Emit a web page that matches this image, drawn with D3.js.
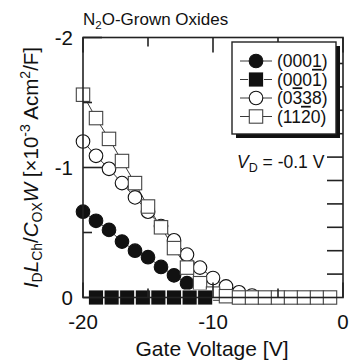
<!DOCTYPE html>
<html>
<head>
<meta charset="utf-8">
<style>
  body { margin: 0; background: #fff; }
  svg { font-family: "Liberation Sans", Arial, sans-serif; }
</style>
</head>
<body>
<svg width="357" height="360"></svg>
<script src="https://cdn.jsdelivr.net/npm/d3@7"></script>
<script>

// data (x: gate voltage [V], y: normalised drain current)
var circFilledV = [-20, -19, -18, -17, -16, -15, -14, -13, -12];
var circFilledI = [-0.66, -0.59, -0.52, -0.43, -0.36, -0.31, -0.235, -0.17, -0.11];

var sqFilledV = [-19, -17.8, -16.6, -15.4, -14.2, -13, -11.8, -10.6];
var sqFilledI = [0, 0, 0, 0, 0, 0, 0, 0];

var circOpenV = [-20, -19, -18, -17, -16, -15, -14, -13, -12, -11, -10, -9, -8, -7];
var circOpenI = [-1.20, -1.09, -0.99, -0.88, -0.77, -0.66, -0.55, -0.44, -0.33, -0.23, -0.15, -0.085, -0.04, -0.015];

var sqOpenV = [-20, -19, -18, -17, -16, -15, -14, -13, -12, -11, -10, -9, -8, -7, -6, -5, -4, -3, -2, -1];
var sqOpenI = [-1.56, -1.38, -1.22, -1.05, -0.88, -0.70, -0.54, -0.38, -0.23, -0.11, -0.03, -0.01, 0, 0, 0, 0, 0, 0, 0, 0];

var xTicks = [-20, -10, 0];
var xMinor = [-15, -5];
var yTicks = [-2, -1, 0];
var yMinor = [-1.5, -0.5];
var rightTicks = [-0.18, -0.36, -0.54, -0.72, -0.9, -1.08, -1.26, -1.44, -1.62, -1.8];

var svg = d3.select("svg"),
    margin = {top: 37.5, right: 14, bottom: 62.5, left: 83},
    width = +svg.attr("width") - margin.left - margin.right,
    height = +svg.attr("height") - margin.top - margin.bottom,
    g = svg.append("g").attr("transform", "translate(" + margin.left + "," + margin.top + ")");

var x = d3.scaleLinear().domain([-20, 0]).range([0, width]);
var y = d3.scaleLinear().domain([0, -2]).range([height, 0]);

function zip(xs, ys) { return xs.map(function(v, i) { return {v: v, i: ys[i]}; }); }

var series = [
  {key: "co", data: zip(circOpenV, circOpenI), shape: "circle", fill: "#fff", stroke: "#111"},
  {key: "cf", data: zip(circFilledV, circFilledI), shape: "circle", fill: "#111", stroke: "#111"},
  {key: "so", data: zip(sqOpenV, sqOpenI), shape: "square", fill: "#fff", stroke: "#444"},
  {key: "sf", data: zip(sqFilledV, sqFilledI), shape: "square", fill: "#111", stroke: "#fff", size: 15}
];

var line = d3.line().x(function(d) { return x(d.v); }).y(function(d) { return y(d.i); });

// connecting lines first
series.forEach(function(s) {
  g.append("path").datum(s.data)
    .attr("d", line)
    .attr("fill", "none")
    .attr("stroke", "#222")
    .attr("stroke-width", 0.9);
});

function drawMarker(sel, s) {
  if (s.shape === "circle") {
    sel.append("circle").attr("r", 6.8)
      .attr("fill", s.fill).attr("stroke", s.stroke).attr("stroke-width", 1.1);
  } else {
    var a = s.size || 13.4;
    sel.append("rect").attr("x", -a / 2).attr("y", -a / 2).attr("width", a).attr("height", a)
      .attr("fill", s.fill).attr("stroke", s.stroke).attr("stroke-width", s.size ? 0.8 : 1.1);
  }
}

series.forEach(function(s) {
  g.append("g").selectAll("g")
    .data(s.data)
    .enter().append("g")
      .attr("transform", function(d) { return "translate(" + x(d.v) + "," + y(d.i) + ")"; })
      .each(function() { drawMarker(d3.select(this), s); });
});

// frame
g.append("rect")
  .attr("width", width).attr("height", height)
  .attr("fill", "none").attr("stroke", "#222").attr("stroke-width", 1.6);

// ticks (all pointing inward)
var ticks = g.append("g").attr("stroke", "#222").attr("stroke-width", 1.6);
function vTicks(vals, len) {
  vals.forEach(function(v) {
    ticks.append("line").attr("x1", x(v)).attr("x2", x(v)).attr("y1", 0).attr("y2", len);
    ticks.append("line").attr("x1", x(v)).attr("x2", x(v)).attr("y1", height).attr("y2", height - len);
  });
}
vTicks(xTicks, 15);
vTicks(xMinor, 9);
yTicks.forEach(function(v) {
  ticks.append("line").attr("x1", 0).attr("x2", 19).attr("y1", y(v)).attr("y2", y(v));
});
yMinor.forEach(function(v) {
  ticks.append("line").attr("x1", 0).attr("x2", 9).attr("y1", y(v)).attr("y2", y(v));
});
rightTicks.forEach(function(v) {
  ticks.append("line").attr("x1", width - 16).attr("x2", width).attr("y1", y(v)).attr("y2", y(v));
});

// tick labels
g.append("g").attr("font-size", 20.5).attr("text-anchor", "middle").attr("fill", "#111")
  .selectAll("text").data(xTicks).enter().append("text")
    .attr("x", function(d) { return x(d); })
    .attr("y", height + 31)
    .text(function(d) { return d; });

g.append("g").attr("font-size", 20.5).attr("text-anchor", "end").attr("fill", "#111")
  .selectAll("text").data(yTicks).enter().append("text")
    .attr("x", -10)
    .attr("y", function(d) { return y(d); })
    .attr("dy", "0.35em")
    .text(function(d) { return d; });

// axis titles
svg.append("text")
  .attr("x", margin.left + width / 2 - 1).attr("y", 356)
  .attr("text-anchor", "middle").attr("font-size", 21).attr("fill", "#111")
  .text("Gate Voltage [V]");

var yl = svg.append("text")
  .attr("transform", "translate(38," + (margin.top + height / 2) + ") rotate(-90)")
  .attr("text-anchor", "middle").attr("font-size", 20.5).attr("fill", "#111");
yl.append("tspan").attr("font-style", "italic").text("I");
yl.append("tspan").attr("font-size", 14).attr("dy", 4).text("D");
yl.append("tspan").attr("font-style", "italic").attr("dy", -4).text("L");
yl.append("tspan").attr("font-size", 14).attr("dy", 4).text("Ch");
yl.append("tspan").attr("dy", -4).text("/");
yl.append("tspan").attr("font-style", "italic").text("C");
yl.append("tspan").attr("font-size", 14).attr("dy", 4).text("OX");
yl.append("tspan").attr("font-style", "italic").attr("dy", -4).text("W");
yl.append("tspan").text(" [\u00d710");
yl.append("tspan").attr("font-size", 14).attr("dy", -8).text("-3");
yl.append("tspan").attr("dy", 8).text(" Acm");
yl.append("tspan").attr("font-size", 14).attr("dy", -8).text("2");
yl.append("tspan").attr("dy", 8).text("/F]");

// title
var tt = svg.append("text").attr("x", 83).attr("y", 25).attr("font-size", 17).attr("fill", "#111");
tt.append("tspan").text("N");
tt.append("tspan").attr("font-size", 11.5).attr("dy", 4).text("2");
tt.append("tspan").attr("dy", -4).text("O-Grown Oxides");

// V_D label
var vd = g.append("text").attr("x", 154).attr("y", 130).attr("font-size", 17.5).attr("fill", "#111");
vd.append("tspan").attr("font-style", "italic").text("V");
vd.append("tspan").attr("font-size", 12.5).attr("dy", 4).text("D");
vd.append("tspan").attr("dy", -4).text(" = -0.1 V");

// legend with drop shadow
var legendItems = [
  {s: series[1], label: ["(0001)", "", ""]},
  {s: series[3], label: ["(000", "1", ")"]},
  {s: series[0], label: ["(0", "3", "38)"]},
  {s: series[2], label: ["(11", "2", "0)"]}
];
var lg = svg.append("g").attr("transform", "translate(232,42)");
lg.append("rect").attr("x", 4).attr("y", 4).attr("width", 104).attr("height", 92).attr("fill", "#111");
lg.append("rect").attr("width", 104).attr("height", 92).attr("fill", "#fff")
  .attr("stroke", "#222").attr("stroke-width", 1.4);

var row = lg.selectAll("g.row").data(legendItems).enter().append("g")
  .attr("class", "row")
  .attr("transform", function(d, i) { return "translate(0," + (19 + i * 18.5) + ")"; });
row.append("line").attr("x1", 8).attr("x2", 40).attr("stroke", "#222").attr("stroke-width", 0.9);
row.each(function(d) {
  var m = d3.select(this).append("g").attr("transform", "translate(24,0)");
  drawMarker(m, d.s);
  var t = d3.select(this).append("text").attr("x", 45).attr("dy", "0.36em")
    .attr("font-size", 17.5).attr("fill", "#111");
  t.append("tspan").text(d.label[0]);
  if (d.label[1]) t.append("tspan").style("text-decoration", "overline").text(d.label[1]);
  t.append("tspan").text(d.label[2]);
});

</script>
</body>
</html>
